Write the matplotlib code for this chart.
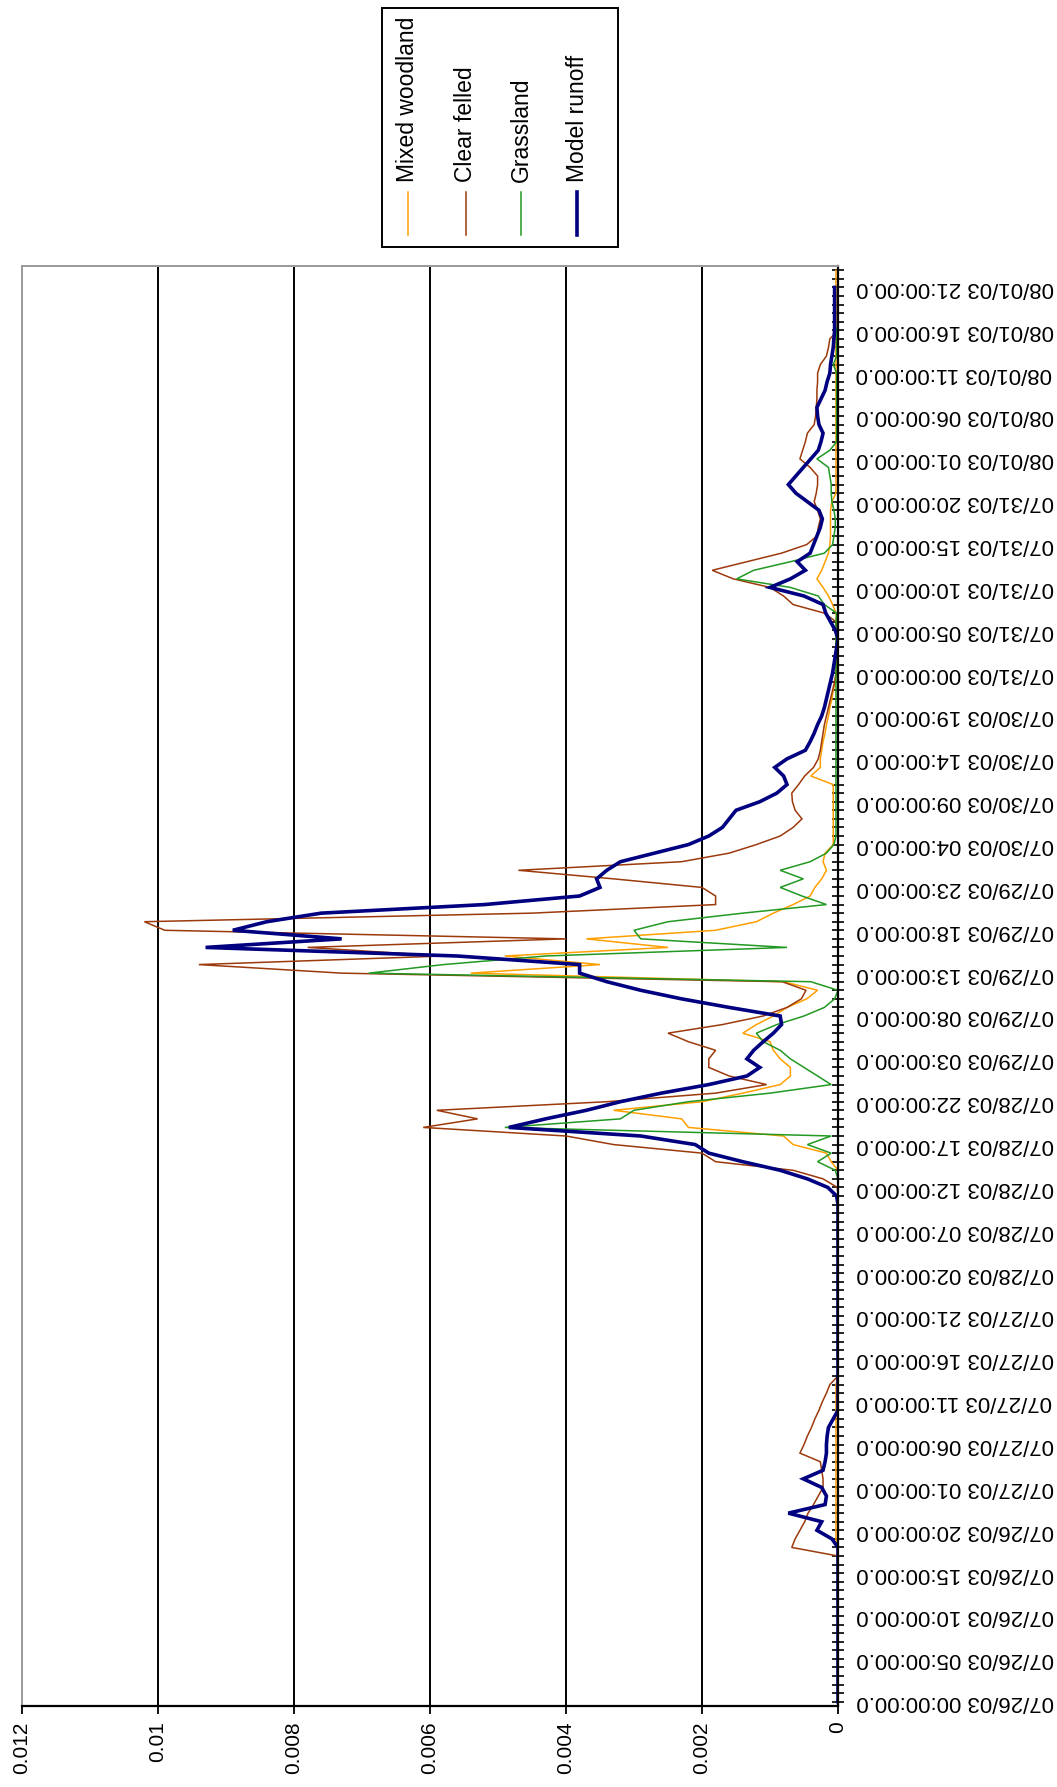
import numpy as np
import pandas as pd
import matplotlib
matplotlib.use("Agg")
import matplotlib.pyplot as plt
from matplotlib.lines import Line2D
from matplotlib.patches import Rectangle

plt.rcParams['font.family'] = ['Liberation Sans', 'DejaVu Sans']

nan = np.nan

# hourly runoff, 07/26/03 00:00 .. 08/01/03 23:00 (168 hours)
mixed_woodland = [
    0, 0, 0, 0, 0, 0, 0, 0, 0, 0,
    0, 0, 0, 0, 0, 0, 0, 0, 0, 0.00003,
    0.00003, 0.00003, 0.00003, 0.00003, 0.00003, 0.00003, 0.00003, 0.00003, 0.00003, 0.00003,
    0.00003, 0.00003, 0.00003, 0.00003, 0.00003, 0.00003, 0.00003, 0.00003, 0, 0,
    0, 0, 0, 0, 0, 0, 0, 0, 0, 0,
    0, 0, 0, 0, 0, 0, 0, 0, 0, 0,
    0, 0, 0, 0.0001, 0.00017, 0.00066, 0.0008, 0.0022, 0.0023, 0.0033,
    0.002, 0.0014, 0.00085, 0.0007, 0.0007, 0.00085, 0.00095, 0.001, 0.0014, 0.0012,
    0.00095, 0.00075, 0.00046, 0.0003, 0.0008, 0.0054, 0.0035, 0.0049, 0.0025, 0.0037,
    0.0018, 0.0012, 0.00095, 0.00066, 0.00041, 0.00034, 0.00024, 0.00017, 0.00022, 0.00019,
    0.00007, 0.00007, 0.00007, 0.00007, 0.00007, 0.00007, 0.00007, 0.00007, 0.0004, 0.00026,
    0.00026, 0.00024, 0.00022, 0.00019, 0.00017, 0.00014, 0.00012, 0.00009, 0.00007, 0.00004,
    0.00002, 0.00002, 0.00002, 0.00002, 0.00002, 0.00002, 0.00002, 0.00003, 0.00008, 0.00014,
    0.00022, 0.00031, 0.00024, 0.00019, 0.00014, 0.00012, 0.00011, 0.00011, 0.00011, 0.00011,
    0.00009, 0.00003, 0.00003, 0.00003, 0.00003, 0.00003, 0.00003, 0.00003, 0.00003, 0.00003,
    0.00003, 0.00003, 0.00003, 0.00003, 0.00003, 0.00003, 0.00003, 0.00003, 0.00003, 0.00003,
    0.00003, 0.00003, 0.00003, 0.00003, 0.00003, 0.00003, 0.00003, 0.00003,
]

clear_felled = [
    0, 0, 0, 0, 0, 0, 0, 0, 0, 0,
    0, 0, 0, 0, 0, 0, 0, 0, 0.00068, 0.00063,
    0.00056, 0.00049, 0.00044, 0.00036, 0.00029, 0.00022, 0.00022, 0.00024, 0.00026, 0.00056,
    0.0005, 0.00045, 0.00039, 0.00034, 0.00028, 0.00023, 0.00017, 0.00012, 0, 0,
    0, 0, 0, 0, 0, 0, 0, 0, 0, 0,
    0, 0, 0, 0, 0, 0, 0, 0, 0, 0,
    0.00001, 0.00022, 0.00066, 0.0018, 0.002, 0.0033, 0.004, 0.0061, 0.0053, 0.0059,
    0.0034, 0.0018, 0.00105, 0.0016, 0.0019, 0.0019, 0.0018, 0.0022, 0.0025, 0.0017,
    0.0011, 0.00075, 0.00054, 0.00047, 0.00082, 0.0073, 0.0094, 0.0058, 0.0078, 0.004,
    0.0099, 0.0102, 0.0045, 0.0018, 0.0018, 0.002, 0.0033, 0.0047, 0.0023, 0.0016,
    0.0012, 0.00085, 0.00066, 0.00053, 0.00063, 0.00067, 0.00068, 0.00058, 0.00049, 0.00036,
    0.00029, 0.00026, 0.00024, 0.00022, 0.0002, 0.00017, 0.00014, 0.00011, 0.00008, 0.00005,
    0.00003, 0.00002, 0.00002, 0.00002, 0.00002, 0.00002, 0.00003, 0.0002, 0.00066, 0.0008,
    0.001, 0.00154, 0.00185, 0.00134, 0.00083, 0.00046, 0.00031, 0.00029, 0.00026, 0.0003,
    0.00035, 0.00032, 0.0003, 0.0003, 0.00041, 0.00056, 0.00052, 0.00048, 0.00045, 0.00035,
    0.00033, 0.00032, 0.00031, 0.00031, 0.0003, 0.0003, 0.00026, 0.00017, 0.00014, 0.00012,
    0, 0, 0, 0, 0, 0, 0, 0,
]

grassland = [
    0, 0, 0, 0, 0, 0, 0, 0, 0, 0,
    0, 0, 0, 0, 0, 0, 0, 0, 0, 0,
    0, 0, 0, 0, 0, 0, 0, 0, 0, 0,
    0, 0, 0, 0, 0, 0, 0, 0, 0, 0,
    0, 0, 0, 0, 0, 0, 0, 0, 0, 0,
    0, 0, 0, 0, 0, 0, 0, 0, 0, 0,
    0, 0, 0.00004, 0.0003, 0.0001, 0.00045, 0.0001, 0.0049, 0.0032, 0.003,
    0.0022, 0.001, 0.0001, 0.0003, 0.0005, 0.0007, 0.00085, 0.0011, 0.0012, 0.0009,
    0.0005, 0.0002, 0.00005, 0, 0.0004, 0.0069, 0.0058, 0.0043, 0.00075, 0.0029,
    0.003, 0.0025, 0.0014, 0.00017, 0.00053, 0.00085, 0.00051, 0.00085, 0.00041, 0.00017,
    0.00006, 0.00003, 0.00003, 0.00003, 0.00003, 0.00003, 0.00003, 0.00003, 0.00003, 0.00003,
    0.00003, 0.00003, 0.00003, 0.00003, 0.00003, 0.00003, 0.00003, 0.00003, 0.00003, 0.00003,
    0.00003, 0.00003, 0.00003, 0.00003, 0.00003, 0.00003, 0.00003, 0.00002, 0.0002, 0.00029,
    0.0007, 0.00149, 0.00124, 0.0007, 0.0002, 0.00008, 0.00006, 0.00004, 0.00004, 0.00006,
    0.00009, 0.0001, 0.0001, 0.00012, 0.00014, 0.00031, 0.00012, 0.00002, 0.00002, 0.00002,
    0.00002, 0.00002, 0.00002, 0.00002, 0.00002, 0.00002, 0.00007, 0.00002, 0.00002, 0.00002,
    0.00002, 0, 0, 0, 0, 0, 0, 0,
]

model_runoff = [
    0, 0, 0, 0, 0, 0, 0, 0, 0, 0,
    0, 0, 0, 0, 0, 0, 0, 0, 0, 0.00009,
    0.00031, 0.00024, 0.00073, 0.00019, 0.00017, 0.00024, 0.00051, 0.00022, 0.00019, 0.00017,
    0.00017, 0.00016, 0.00014, 0.00007, 0, 0, 0, 0, 0, 0,
    0, 0, 0, 0, 0, 0, 0, 0, 0, 0,
    0, 0, 0, 0, 0, 0, 0, 0, 0, 0.00002,
    0.00015, 0.00045, 0.00085, 0.0014, 0.0019, 0.0021, 0.0029, 0.00484, 0.0043, 0.0037,
    0.0032, 0.0026, 0.0019, 0.00134, 0.00115, 0.00134, 0.00124, 0.0011, 0.00095, 0.00083,
    0.00085, 0.0016, 0.0023, 0.0029, 0.0034, 0.0038, 0.0038, 0.0056, 0.0093, 0.0073,
    0.0089, 0.0084, 0.0076, 0.0052, 0.0038, 0.0035, 0.00355, 0.0034, 0.0032, 0.0027,
    0.0022, 0.0019, 0.0017, 0.0016, 0.0015, 0.00115, 0.0009, 0.00075, 0.0008, 0.00093,
    0.00075, 0.00048, 0.00041, 0.00035, 0.0003, 0.00024, 0.0002, 0.00017, 0.00014, 0.00011,
    0.00008, 0.00006, 0.00004, 0.00002, 0, 0.00004, 0.00011, 0.00018, 0.00022, 0.0005,
    0.001, 0.0007, 0.00048, 0.0006, 0.00041, 0.00036, 0.00031, 0.00026, 0.00023, 0.00028,
    0.00045, 0.00062, 0.00073, 0.00062, 0.00051, 0.0004, 0.00029, 0.00025, 0.00022, 0.00028,
    0.0003, 0.00031, 0.00025, 0.00019, 0.00016, 0.00012, 0.00011, 0.00009, 0.00007, 0.00006,
    0.00005, 0.00005, 0.00005, 0.00005, 0.00005, 0.00005, nan, nan,
]

series_names = ["Mixed woodland", "Clear felled", "Grassland", "Model runoff"]
series_colors = ["#FFA000", "#9C3A0C", "#229922", "#000080"]
series_widths = [1.1, 1.1, 1.1, 2.6]

value_ticks = [0, 0.002, 0.004, 0.006, 0.008, 0.01, 0.012]
value_labels = ["0", "0.002", "0.004", "0.006", "0.008", "0.01", "0.012"]

times = pd.date_range("2003-07-26 00:00", periods=168, freq="h")
time_labels = [t.strftime("%m/%d/%y %H:%M:%S") + ".0" for t in times]
label_every = 5

W, H = 1057, 1787
fig = plt.figure(figsize=(W / 100, H / 100), dpi=100)
ax = fig.add_axes([22 / W, (H - 1706) / H, (838 - 22) / W, (1706 - 266) / H])

hours = np.arange(len(times))
all_series = [mixed_woodland, clear_felled, grassland, model_runoff]
for vals, col, lw in zip(all_series, series_colors, series_widths):
    ax.plot(vals, hours, color=col, lw=lw, solid_joinstyle='miter')

ax.set_xlim(0.012, 0)
ax.set_ylim(-0.5, len(times) - 0.5)

# gridlines inside the plot area
for v in value_ticks[1:-1]:
    ax.axvline(v, color='black', lw=1.4, zorder=0)

ax.set_xticks(value_ticks)
ax.set_xticklabels(value_labels, rotation=90)
ax.tick_params(axis='x', direction='out', length=6, width=1.3, pad=5, labelsize=15)

ax.yaxis.tick_right()
ax.set_yticks(hours)
ax.set_yticklabels([lab if i % label_every == 0 else "" for i, lab in enumerate(time_labels)],
                   rotation=180, va='center', ha='left')
ax.tick_params(axis='y', direction='inout', length=8, width=1.2, pad=9, labelsize=16)

for side in ['left', 'top']:
    ax.spines[side].set_color('#999999')
    ax.spines[side].set_linewidth(1.4)
for side in ['right', 'bottom']:
    ax.spines[side].set_color('black')
    ax.spines[side].set_linewidth(1.6)

# legend, drawn rotated like the rest of the chart
fig.add_artist(Rectangle((382 / W, 1 - 247 / H), (618 - 382) / W, (247 - 8) / H,
                         transform=fig.transFigure, fill=False, ec='black', lw=1.4))
legend_x = [408, 466, 521, 577]
for x, name, col, lw in zip(legend_x, series_names, series_colors, series_widths):
    fig.add_artist(Line2D([x / W, x / W], [1 - 235 / H, 1 - 192 / H],
                          transform=fig.transFigure, color=col, lw=lw))
    fig.text(x / W, 1 - 182 / H, name, rotation=90, ha='center', va='bottom', fontsize=16.5)

fig.savefig("out.png", dpi=100)
